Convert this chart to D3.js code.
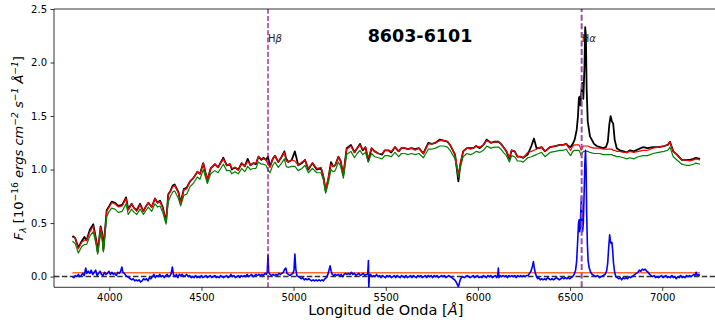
<!DOCTYPE html>
<html>
<head>
<meta charset="utf-8">
<script src="https://cdn.jsdelivr.net/npm/d3@7"></script>
<style>
  html, body { margin: 0; padding: 0; background: #fff; }
  svg { display: block; }
  text { font-family: "DejaVu Sans", sans-serif; }
</style>
</head>
<body>
<svg id="chart" width="715" height="334"></svg>
<script>
// ---------------- DATA ----------------
const title = "8603-6101";
const xTicks = [4000, 4500, 5000, 5500, 6000, 6500, 7000];
const yTicks = [0.0, 0.5, 1.0, 1.5, 2.0, 2.5];
const xDomain = [3700, 7300];
const yDomain = [-0.1, 2.5];

const lineNames = ["Hβ", "Hα"];
const lineWaves = [4861, 6563];

const wavelength = [
  3800,3815,3832,3850,3865,3877,3895,3913,3928,3937,
  3953,3962,3968,3986,4000,4013,4030,4049,4070,4091,
  4103,4121,4135,4149,4167,4185,4200,4212,4230,4248,
  4262,4275,4290,4308,4320,4332,4344,4355,4375,4387,
  4405,4420,4438,4456,4478,4492,4510,4532,4550,4573,
  4590,4619,4637,4655,4665,4682,4700,4718,4735,4751,
  4766,4781,4795,4809,4825,4836,4850,4861,4872,4887,
  4899,4917,4935,4950,4960,4971,4990,5007,5025,5045,
  5062,5080,5102,5126,5149,5162,5174,5189,5203,5215,
  5226,5243,5255,5270,5288,5311,5330,5345,5360,5375,
  5390,5405,5423,5440,5460,5480,5495,5514,5530,5550,
  5570,5585,5604,5620,5640,5659,5680,5704,5731,5750,
  5770,5794,5815,5835,5849,5876,5894,5905,5920,5940,
  5960,5975,5990,6010,6030,6048,6070,6090,6111,6125,
  6138,6155,6171,6183,6200,6214,6230,6246,6270,6290,
  6304,6318,6330,6346,6364,6391,6420,6445,6463,6480,
  6490,6503,6515,6525,6536,6543,6548,6552,6556,6560,
  6566,6572,6578,6582,6586,6590,6596,6608,6630,6645,
  6662,6680,6695,6705,6713,6720,6727,6734,6742,6753,
  6770,6790,6807,6825,6845,6870,6897,6920,6950,6980,
  7010,7030,7042,7060,7080,7106,7130,7150,7170,7183,
  7205
];

const observed = [
  .38,.36,.27,.33,.37,.34,.44,.49,.35,.23,
  .47,.40,.25,.62,.66,.70,.69,.66,.67,.74,
  .63,.68,.64,.62,.68,.61,.66,.69,.65,.73,
  .69,.71,.65,.51,.77,.80,.85,.86,.79,.69,
  .82,.83,.89,.92,.98,.96,1.06,.90,1.01,1.05,
  1.02,1.11,1.04,1.05,1.00,1.02,1.00,1.06,1.03,1.10,
  1.04,1.06,1.05,1.12,1.09,1.11,1.09,1.12,1.03,1.10,
  1.13,1.07,1.12,1.17,1.10,1.07,1.09,1.17,1.04,1.06,
  1.09,1.00,1.06,1.00,1.01,.93,.80,.92,1.07,1.03,
  1.04,1.12,1.08,.95,1.20,1.23,1.16,1.20,1.24,1.18,
  1.21,1.08,1.20,1.17,1.15,1.14,1.18,1.18,1.16,1.21,
  1.17,1.20,1.20,1.19,1.20,1.19,1.20,1.15,1.25,1.24,
  1.25,1.28,1.27,1.26,1.23,1.14,.89,1.05,1.17,1.20,
  1.20,1.20,1.22,1.20,1.23,1.28,1.25,1.26,1.26,1.24,
  1.21,1.17,1.10,1.18,1.17,1.12,1.12,1.11,1.14,1.22,
  1.29,1.20,1.20,1.21,1.17,1.21,1.22,1.23,1.23,1.24,
  1.22,1.21,1.24,1.28,1.37,1.50,1.67,1.68,1.60,1.70,
  1.81,1.66,1.95,2.33,2.25,1.75,1.45,1.31,1.24,1.22,
  1.21,1.20,1.21,1.26,1.42,1.50,1.45,1.43,1.28,1.20,
  1.18,1.17,1.16,1.18,1.17,1.19,1.21,1.20,1.21,1.21,
  1.22,1.23,1.26,1.17,1.14,1.09,1.09,1.09,1.10,1.11,
  1.10
];

const model = [
  .37,.36,.26,.32,.34,.34,.42,.47,.34,.23,
  .46,.38,.25,.61,.65,.69,.68,.65,.66,.73,
  .62,.68,.64,.61,.67,.61,.66,.69,.65,.73,
  .69,.70,.64,.51,.76,.80,.84,.85,.78,.69,
  .81,.82,.89,.92,.98,.96,1.06,.90,1.01,1.05,
  1.02,1.10,1.04,1.05,1.01,1.02,.99,1.06,1.03,1.08,
  1.04,1.06,1.06,1.12,1.10,1.10,1.09,1.05,1.02,1.10,
  1.13,1.07,1.12,1.16,1.08,1.07,1.09,1.08,1.04,1.07,
  1.09,1.01,1.06,1.01,1.02,.94,.81,.93,1.05,1.03,
  1.04,1.12,1.08,.96,1.19,1.22,1.16,1.20,1.23,1.19,
  1.21,1.11,1.20,1.17,1.15,1.15,1.18,1.18,1.17,1.21,
  1.17,1.20,1.20,1.19,1.20,1.18,1.20,1.15,1.24,1.24,
  1.25,1.27,1.27,1.26,1.23,1.14,.96,1.06,1.17,1.20,
  1.19,1.20,1.22,1.21,1.23,1.27,1.25,1.26,1.26,1.24,
  1.21,1.17,1.11,1.18,1.17,1.12,1.12,1.11,1.16,1.17,
  1.18,1.19,1.20,1.21,1.17,1.21,1.22,1.23,1.23,1.24,
  1.21,1.18,1.22,1.23,1.23,1.23,1.23,1.22,1.20,1.18,
  1.20,1.22,1.22,1.22,1.22,1.22,1.22,1.21,1.20,1.20,
  1.20,1.19,1.19,1.19,1.19,1.19,1.19,1.18,1.18,1.17,
  1.17,1.16,1.16,1.17,1.16,1.17,1.18,1.18,1.20,1.21,
  1.22,1.23,1.26,1.17,1.14,1.09,1.09,1.08,1.09,1.10,
  1.09
];

const modelAlt = [
  .33,.31,.22,.28,.30,.30,.38,.42,.30,.21,
  .41,.33,.23,.56,.61,.64,.63,.60,.61,.68,
  .58,.63,.60,.58,.63,.58,.62,.65,.61,.68,
  .65,.66,.60,.49,.70,.75,.79,.80,.73,.66,
  .76,.77,.84,.87,.93,.91,1.00,.87,.96,.99,
  .97,1.05,.99,.99,.96,.98,.96,1.01,.98,1.03,
  1.00,1.01,1.01,1.07,1.05,1.05,1.04,1.00,.97,1.04,
  1.07,1.02,1.06,1.10,1.03,1.02,1.03,1.03,.99,1.01,
  1.04,.97,1.01,.97,.97,.90,.78,.88,1.00,.98,
  .99,1.07,1.03,.92,1.14,1.17,1.11,1.15,1.18,1.14,
  1.16,1.07,1.15,1.12,1.11,1.10,1.13,1.13,1.12,1.16,
  1.12,1.15,1.15,1.14,1.15,1.14,1.15,1.11,1.19,1.19,
  1.20,1.22,1.22,1.21,1.18,1.10,.93,1.02,1.12,1.15,
  1.14,1.15,1.17,1.16,1.18,1.22,1.20,1.21,1.21,1.19,
  1.16,1.13,1.07,1.13,1.12,1.08,1.08,1.07,1.11,1.12,
  1.13,1.14,1.15,1.16,1.12,1.16,1.17,1.18,1.18,1.19,
  1.16,1.13,1.17,1.18,1.18,1.18,1.18,1.17,1.15,1.13,
  1.15,1.17,1.17,1.17,1.17,1.17,1.17,1.16,1.15,1.15,
  1.15,1.14,1.14,1.14,1.14,1.14,1.14,1.13,1.13,1.12,
  1.12,1.11,1.10,1.11,1.10,1.12,1.13,1.13,1.15,1.16,
  1.17,1.18,1.21,1.12,1.09,1.05,1.04,1.04,1.05,1.06,
  1.05
];

// residual spectrum: [wavelength, flux]
const residual = [
  [3800,0.00],[3808,-0.01],[3816,0.01],[3824,0.00],[3832,0.02],[3840,0.00],[3848,0.01],[3856,0.03],[3864,0.01],[3872,0.08],
  [3878,0.03],[3886,0.05],[3894,0.03],[3902,0.06],[3910,0.02],[3918,0.04],[3926,0.06],[3934,0.01],[3942,0.03],[3950,0.05],
  [3958,0.02],[3966,0.01],[3974,0.04],[3982,0.02],[3990,0.03],[3998,0.05],[4006,0.02],[4014,0.04],[4022,0.02],[4030,0.03],
  [4038,0.01],[4046,0.04],[4054,0.03],[4062,0.05],[4068,0.09],[4074,0.04],[4082,0.03],[4090,0.01],[4098,0.00],[4106,-0.01],
  [4114,-0.02],[4122,-0.03],[4130,-0.02],[4138,-0.04],[4146,-0.03],[4154,-0.04],[4162,-0.03],[4170,-0.05],[4178,-0.04],[4186,-0.02],
  [4194,-0.03],[4202,-0.02],[4210,-0.04],[4218,-0.01],[4226,-0.02],[4234,0.00],[4242,0.02],[4250,-0.01],[4258,0.01],[4266,0.00],
  [4274,0.02],[4282,0.00],[4290,0.01],[4298,-0.01],[4306,0.01],[4314,0.02],[4322,0.00],[4330,0.01],[4336,0.03],[4342,0.09],
  [4348,0.02],[4356,0.00],[4364,0.02],[4372,-0.01],[4380,0.02],[4388,0.01],[4396,0.02],[4404,0.00],[4412,0.01],[4420,0.02],
  [4428,0.00],[4436,0.01],[4444,-0.01],[4452,0.00],[4460,-0.01],[4468,0.01],[4476,-0.01],[4484,0.00],[4492,-0.01],[4500,0.01],
  [4508,-0.01],[4516,0.00],[4524,0.01],[4532,-0.01],[4540,0.00],[4548,0.01],[4556,-0.01],[4564,0.00],[4572,0.01],[4580,-0.01],
  [4588,0.00],[4596,-0.01],[4604,0.01],[4612,0.00],[4620,-0.01],[4628,0.00],[4636,0.01],[4644,-0.01],[4652,0.00],[4660,0.02],
  [4668,0.00],[4676,0.01],[4684,-0.01],[4692,0.00],[4700,0.01],[4708,-0.01],[4716,0.01],[4724,0.00],[4732,0.01],[4740,0.00],
  [4748,0.02],[4756,0.00],[4764,0.01],[4772,0.02],[4780,0.00],[4788,0.01],[4796,0.02],[4804,0.01],[4812,0.02],[4820,0.01],
  [4828,0.02],[4836,0.01],[4844,0.03],[4852,0.02],[4857,0.04],[4861,0.20],[4865,0.04],[4872,0.02],[4880,0.01],[4888,0.02],
  [4896,0.01],[4904,0.02],[4912,0.01],[4920,0.03],[4928,0.02],[4936,0.03],[4944,0.04],[4952,0.07],[4958,0.08],[4964,0.03],
  [4972,0.02],[4980,0.01],[4988,0.02],[4996,0.03],[5002,0.06],[5007,0.21],[5012,0.07],[5018,0.01],[5026,0.00],[5034,-0.01],
  [5042,-0.02],[5050,-0.01],[5058,-0.03],[5066,-0.02],[5074,-0.03],[5082,-0.02],[5090,-0.03],[5098,-0.04],[5106,-0.03],[5114,-0.04],
  [5122,-0.03],[5130,-0.04],[5138,-0.03],[5146,-0.04],[5154,-0.03],[5162,-0.04],[5170,-0.02],[5178,-0.01],[5186,0.02],[5192,0.06],
  [5198,0.10],[5204,0.05],[5210,0.02],[5218,0.01],[5226,0.02],[5234,0.01],[5242,0.02],[5250,0.01],[5258,0.02],[5266,0.00],
  [5274,0.02],[5282,0.03],[5290,0.02],[5298,0.03],[5306,0.02],[5314,0.04],[5322,0.02],[5330,0.03],[5338,0.01],[5346,0.02],
  [5354,0.03],[5362,0.01],[5370,0.02],[5378,0.03],[5386,0.01],[5394,0.02],[5402,0.02],[5406,0.15],[5408,-0.11],[5411,0.01],
  [5418,0.02],[5426,0.00],[5434,0.01],[5442,0.00],[5450,0.02],[5458,0.00],[5466,0.01],[5474,-0.01],[5482,0.01],[5490,0.00],
  [5498,-0.01],[5506,0.01],[5514,0.00],[5522,0.01],[5530,-0.01],[5538,0.00],[5546,0.01],[5554,-0.01],[5562,0.01],[5570,0.00],
  [5578,-0.01],[5586,0.01],[5594,0.00],[5602,-0.01],[5610,0.01],[5618,-0.01],[5626,0.00],[5634,0.01],[5642,-0.01],[5650,0.01],
  [5658,0.00],[5666,-0.01],[5674,0.01],[5682,0.00],[5690,0.01],[5698,-0.01],[5706,0.00],[5714,0.01],[5722,-0.01],[5730,0.01],
  [5738,0.00],[5746,0.01],[5754,-0.01],[5762,0.01],[5770,0.00],[5778,0.01],[5786,-0.01],[5794,0.00],[5802,0.01],[5810,0.00],
  [5818,0.01],[5826,-0.01],[5834,0.00],[5842,0.01],[5850,0.00],[5858,-0.01],[5866,-0.02],[5874,-0.03],[5882,-0.05],[5890,-0.08],
  [5894,-0.095],[5898,-0.07],[5904,-0.03],[5910,-0.01],[5918,0.00],[5926,-0.01],[5934,0.00],[5942,0.01],[5950,0.00],[5958,-0.01],
  [5966,0.00],[5974,0.01],[5982,-0.01],[5990,0.00],[5998,0.01],[6006,-0.01],[6014,0.00],[6022,-0.01],[6030,0.01],[6038,0.00],
  [6046,-0.01],[6054,0.01],[6062,0.00],[6070,0.01],[6078,-0.01],[6086,0.00],[6094,0.01],[6102,-0.01],[6108,0.02],[6111,0.08],
  [6114,-0.01],[6120,0.01],[6128,0.00],[6136,0.01],[6144,0.00],[6152,0.01],[6160,-0.01],[6168,0.01],[6176,0.00],[6184,0.01],
  [6192,0.00],[6200,0.01],[6208,-0.01],[6216,0.01],[6224,0.00],[6232,0.01],[6240,0.00],[6248,0.01],[6256,0.00],[6264,0.01],
  [6272,0.01],[6280,0.03],[6288,0.05],[6296,0.10],[6301,0.14],[6306,0.08],[6312,0.03],[6318,0.00],[6324,-0.02],[6330,-0.01],
  [6338,-0.03],[6346,-0.02],[6354,-0.03],[6362,-0.02],[6370,-0.03],[6378,-0.01],[6386,-0.02],[6394,-0.03],[6402,-0.02],[6410,-0.03],
  [6418,-0.02],[6426,-0.01],[6434,-0.02],[6442,-0.03],[6450,-0.02],[6458,-0.01],[6466,-0.02],[6474,-0.01],[6482,-0.02],[6490,-0.01],
  [6498,-0.02],[6506,-0.01],[6514,0.00],[6522,0.02],[6530,0.06],[6536,0.15],[6541,0.32],[6546,0.50],[6549,0.53],[6552,0.42],
  [6555,0.45],[6558,0.60],[6562,0.75],[6565,0.55],[6568,0.42],[6572,0.50],[6576,0.75],[6580,1.05],[6584,1.18],[6587,1.00],
  [6590,0.60],[6594,0.30],[6598,0.15],[6604,0.08],[6612,0.04],[6620,0.02],[6630,0.01],[6640,0.00],[6650,0.01],[6660,-0.01],
  [6670,0.00],[6680,0.01],[6690,0.02],[6698,0.05],[6704,0.12],[6710,0.28],[6715,0.39],[6719,0.33],[6723,0.31],[6727,0.32],
  [6731,0.25],[6736,0.12],[6742,0.04],[6748,0.00],[6756,-0.01],[6764,-0.02],[6772,-0.01],[6780,-0.03],[6788,-0.01],[6796,-0.02],
  [6804,-0.01],[6812,-0.02],[6820,0.00],[6828,-0.01],[6836,0.00],[6844,0.01],[6852,0.02],[6860,0.03],[6868,0.04],[6876,0.06],
  [6884,0.05],[6892,0.07],[6900,0.06],[6908,0.07],[6916,0.05],[6924,0.04],[6932,0.02],[6940,0.01],[6948,0.00],[6956,0.01],
  [6964,-0.01],[6972,0.00],[6980,-0.01],[6988,0.00],[6996,0.01],[7004,-0.01],[7012,0.00],[7020,0.01],[7028,-0.01],[7036,0.00],
  [7044,-0.01],[7052,0.01],[7060,-0.01],[7068,0.00],[7076,-0.02],[7084,0.00],[7092,-0.01],[7100,0.01],[7108,-0.01],[7116,0.00],
  [7124,-0.01],[7132,0.01],[7140,0.00],[7148,0.01],[7156,0.00],[7164,0.01],[7172,0.02],[7178,0.01],[7184,0.04],[7190,0.01],
  [7196,0.02],[7205,0.01]
];

const continuumLevel = [[3800, 0.037], [7205, 0.037]];
const zeroLine = [[3700, 0], [7300, 0]];

// ---------------- LAYOUT ----------------
const plot = { left: 54, right: 717.5, top: 9, bottom: 287.3 };

const svg = d3.select("#chart");
const x = d3.scaleLinear().domain(xDomain).range([plot.left, plot.right]);
const y = d3.scaleLinear().domain(yDomain).range([plot.bottom, plot.top]);

svg.append("defs").append("clipPath").attr("id", "clip")
  .append("rect")
  .attr("x", plot.left).attr("y", plot.top)
  .attr("width", plot.right - plot.left).attr("height", plot.bottom - plot.top);

const g = svg.append("g").attr("clip-path", "url(#clip)");

const linePair = d3.line().x(d => x(d[0])).y(d => y(d[1]));
const zip = arr => wavelength.map((w, i) => [w, arr[i]]);

// zero reference line
g.append("path").datum(zeroLine).attr("d", linePair)
  .attr("fill", "none").attr("stroke", "#333").attr("stroke-width", 1.5)
  .attr("stroke-dasharray", "5.5,2.4");

// spectra
g.append("path").datum(zip(observed)).attr("d", linePair)
  .attr("fill", "none").attr("stroke", "black").attr("stroke-width", 1.8)
  .attr("stroke-linejoin", "round");
g.append("path").datum(zip(model)).attr("d", linePair)
  .attr("fill", "none").attr("stroke", "red").attr("stroke-width", 1.2)
  .attr("stroke-linejoin", "round");
g.append("path").datum(zip(modelAlt)).attr("d", linePair)
  .attr("fill", "none").attr("stroke", "green").attr("stroke-width", 1.2)
  .attr("stroke-linejoin", "round");

// continuum level & residual
g.append("path").datum(continuumLevel).attr("d", linePair)
  .attr("fill", "none").attr("stroke", "#ff6a2e").attr("stroke-width", 1.5);
g.append("path").datum(residual).attr("d", linePair)
  .attr("fill", "none").attr("stroke", "blue").attr("stroke-width", 1.6)
  .attr("stroke-linejoin", "round");

// emission line markers
const markerStyles = [
  { color: "#8b008b", width: 1.2, dash: "5,2.2" },
  { color: "#9b4dab", width: 2, dash: "6,2.6" }
];
lineWaves.forEach((w, i) => {
  const s = markerStyles[i];
  g.append("line")
    .attr("x1", x(w)).attr("x2", x(w))
    .attr("y1", y(yDomain[0])).attr("y2", y(yDomain[1]))
    .attr("stroke", s.color).attr("stroke-width", s.width)
    .attr("stroke-dasharray", s.dash);
  const t = svg.append("text")
    .attr("x", x(w)).attr("y", 41.5)
    .attr("font-size", 10).attr("fill", "#222");
  t.append("tspan").text(lineNames[i].charAt(0));
  t.append("tspan").attr("font-style", "italic").text(lineNames[i].slice(1));
});

// axes
const xAxis = d3.axisBottom(x).tickValues(xTicks).tickSize(3.5).tickPadding(3.5)
  .tickFormat(d3.format("d"));
const yAxis = d3.axisLeft(y).tickValues(yTicks).tickSize(3.5).tickPadding(3.5)
  .tickFormat(d3.format(".1f"));

const gx = svg.append("g").attr("transform", `translate(0,${plot.bottom})`).call(xAxis);
const gy = svg.append("g").attr("transform", `translate(${plot.left},0)`).call(yAxis);
[gx, gy].forEach(a => {
  a.select(".domain").remove();
  a.selectAll(".tick line").attr("stroke", "#000").attr("stroke-width", 0.8);
  a.selectAll(".tick text").attr("font-size", 10).attr("fill", "#000")
    .attr("font-family", "DejaVu Sans");
});

// spines
const spine = (x1, y1, x2, y2) => svg.append("line")
  .attr("x1", x1).attr("y1", y1).attr("x2", x2).attr("y2", y2)
  .attr("stroke", "#000").attr("stroke-width", 0.8);
spine(plot.left, plot.top, plot.right, plot.top);
spine(plot.left, plot.bottom, plot.right, plot.bottom);
spine(plot.left, plot.top, plot.left, plot.bottom);
spine(plot.right, plot.top, plot.right, plot.bottom);

// title
svg.append("text")
  .attr("x", 420).attr("y", 42.3)
  .attr("text-anchor", "middle")
  .attr("font-family", "Liberation Sans, Arial, sans-serif")
  .attr("font-weight", "bold").attr("font-size", 17.5)
  .attr("fill", "#000")
  .text(title);

// x label
const xl = svg.append("text")
  .attr("x", (plot.left + plot.right) / 2).attr("y", 315)
  .attr("text-anchor", "middle").attr("font-size", 14.5).attr("fill", "#000");
xl.append("tspan").text("Longitud de Onda [");
xl.append("tspan").attr("font-style", "italic").text("Å");
xl.append("tspan").text("]");

// y label
const yl = svg.append("text")
  .attr("transform", `translate(23,${(plot.top + plot.bottom) / 2}) rotate(-90)`)
  .attr("text-anchor", "middle").attr("font-size", 13).attr("fill", "#000");
const parts = [
  { t: "F", it: true },
  { t: "λ", it: true, sub: true },
  { t: " [10" },
  { t: "−16", sup: true },
  { t: " ergs cm", it: true },
  { t: "−2", sup: true, it: true },
  { t: " s", it: true },
  { t: "−1", sup: true, it: true },
  { t: " Å", it: true },
  { t: "−1", sup: true, it: true },
  { t: "]" }
];
let shift = 0;
parts.forEach(p => {
  const target = p.sup ? -5.5 : (p.sub ? 3 : 0);
  const ts = yl.append("tspan").text(p.t);
  if (target !== shift) { ts.attr("dy", target - shift); shift = target; }
  if (p.it) ts.attr("font-style", "italic");
  if (p.sup || p.sub) ts.attr("font-size", 9.2);
});
</script>
</body>
</html>
